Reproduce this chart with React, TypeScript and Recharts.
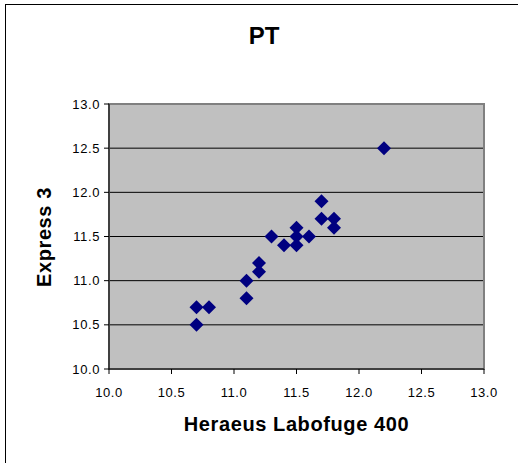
import { ScatterChart, Scatter, XAxis, YAxis, CartesianGrid, ReferenceArea } from "recharts"

// Heraeus Labofuge 400 (x) vs Express 3 (y), PT values
const labofuge = [10.7, 10.8, 10.7, 11.1, 11.1, 11.2, 11.2, 11.3, 11.4, 11.5, 11.5, 11.5, 11.6, 11.7, 11.7, 11.8, 11.8, 12.2]
const express = [10.7, 10.7, 10.5, 11.0, 10.8, 11.2, 11.1, 11.5, 11.4, 11.6, 11.5, 11.4, 11.5, 11.9, 11.7, 11.7, 11.6, 12.5]
const ticks = [10.0, 10.5, 11.0, 11.5, 12.0, 12.5, 13.0]
const gridLines = [10.5, 11.0, 11.5, 12.0, 12.5]

const data = labofuge.map((x, i) => ({ x, y: express[i] }))

const font = "'Liberation Sans', Arial, sans-serif"
const fmt = (v: number) => v.toFixed(1)

const Diamond = (props: any) => {
  const { cx, cy } = props
  const r = 7
  return (
    <polygon
      points={`${cx},${cy - r} ${cx + r},${cy} ${cx},${cy + r} ${cx - r},${cy}`}
      fill="#000080"
    />
  )
}

export default function App() {
  return (
    <div style={{ position: "absolute", left: 0, top: 0, width: 518, height: 463, overflow: "hidden", background: "#fff", fontFamily: font }}>
      <div style={{ position: "absolute", left: 5, top: 4, width: 600, height: 600, borderTop: "1px solid #000", borderLeft: "1px solid #000" }} />
      <div style={{ position: "absolute", left: 0, width: 528, top: 22, textAlign: "center", fontSize: 24, fontWeight: "bold", color: "#000" }}>
        PT
      </div>
      <div
        style={{
          position: "absolute", left: 44, top: 237, fontSize: 20, fontWeight: "bold", letterSpacing: 0.6,
          whiteSpace: "nowrap", transform: "translate(-50%, -50%) rotate(-90deg)", color: "#000"
        }}
      >
        Express 3
      </div>
      <div style={{ position: "absolute", left: 0, top: 0 }}>
        <ScatterChart width={518} height={463} margin={{ top: 104, right: 34, bottom: 30, left: 59 }}>
          <CartesianGrid horizontal vertical={false} horizontalValues={gridLines} fill="#C0C0C0" fillOpacity={1} stroke="#000" />
          <ReferenceArea x1={10} x2={13} y1={10} y2={13} fill="none" stroke="#808080" strokeWidth={2} />
          <XAxis
            type="number"
            dataKey="x"
            domain={[10, 13]}
            ticks={ticks}
            tickFormatter={fmt}
            height={64}
            tickSize={5}
            tickMargin={14}
            axisLine={{ stroke: "#000" }}
            tickLine={{ stroke: "#000" }}
            tick={{ fill: "#000", fontSize: 13, fontFamily: font, letterSpacing: 0.6 }}
            label={{
              value: "Heraeus Labofuge 400", position: "insideBottom", offset: 2,
              style: { fontSize: 20, fontWeight: "bold", fill: "#000", fontFamily: font, letterSpacing: 0.6 }
            }}
          />
          <YAxis
            type="number"
            dataKey="y"
            domain={[10, 13]}
            ticks={ticks}
            tickFormatter={fmt}
            width={50}
            tickSize={5}
            tickMargin={4}
            axisLine={{ stroke: "#000" }}
            tickLine={{ stroke: "#000" }}
            tick={{ fill: "#000", fontSize: 13, fontFamily: font, letterSpacing: 0.6 }}
          />
          <Scatter data={data} shape={Diamond} isAnimationActive={false} />
        </ScatterChart>
      </div>
    </div>
  )
}
